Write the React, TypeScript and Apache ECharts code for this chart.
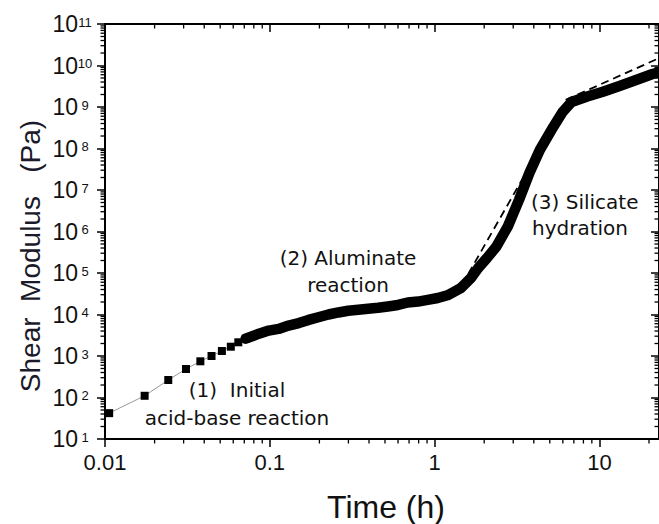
import React, { useEffect, useRef } from "react";
import * as echarts from "echarts";

// ---- axis extents ----
const X_MIN = 0.01;
const X_MAX = 23;
const Y_MIN = 10;
const Y_MAX = 1e11;

// ---- tick positions ----
const xMajorTicks = [0.01, 0.1, 1, 10];
const minorMultipliers = [2, 3, 4, 5, 6, 7, 8, 9];
const yDecades = [1, 2, 3, 4, 5, 6, 7, 8, 9, 10, 11];

// ---- data: early individual measurements (squares) ----
const earlyTime = [0.0106, 0.0174, 0.0242, 0.031, 0.0379, 0.0443, 0.0512, 0.058, 0.0644, 0.0714];
const earlyModulus = [42, 110, 264, 486, 745, 1000, 1320, 1675, 2140, 2610];

// ---- data: dense measurements (thick band) ----
const mainTime = [
  0.0714, 0.0859, 0.0986, 0.113, 0.13, 0.15, 0.172, 0.197, 0.227, 0.261, 0.299, 0.344, 0.395,
  0.454, 0.521, 0.6, 0.687, 0.793, 0.908, 1.046, 1.197, 1.31, 1.44, 1.656, 1.84, 2.08, 2.37,
  2.78, 3.25, 3.76, 4.35, 5.26, 5.98, 6.78, 8.35, 10.5, 13.25, 16.7, 21.0, 23,
];
const mainModulus = [
  2610, 3450, 4100, 4500, 5400, 6200, 7400, 8600, 10000, 11200, 12300, 13000, 13800, 14500,
  15600, 17000, 19500, 20500, 22500, 25000, 29000, 35000, 43000, 74500, 1.32e5, 2.3e5, 4.3e5,
  1.31e6, 5.74e6, 2.57e7, 9.2e7, 3.35e8, 7.6e8, 1.32e9, 1.77e9, 2.34e9, 3.21e9, 4.48e9, 6.24e9,
  6.9e9,
];

// ---- dashed fits ----
const fitSilicateTime = [1.6, 3.5];
const fitSilicateModulus = [9.5e4, 2.2e7];
const fitLateTime = [6.24, 23];
const fitLateModulus = [1.48e9, 1.5e10];

const NUM_FONT = '"Liberation Sans", Arial, sans-serif';
const ANN_FONT = '"Comic Sans MS", "DejaVu Sans", sans-serif';
const INK = "#111";

const xMinorTicks: number[] = [];
xMajorTicks.forEach((d) =>
  minorMultipliers.forEach((m) => {
    const v = +(d * m).toPrecision(3);
    if (v < X_MAX) xMinorTicks.push(v);
  })
);
const yMinorTicks: number[] = [];
yDecades.slice(0, -1).forEach((n) =>
  minorMultipliers.forEach((m) => yMinorTicks.push(m * Math.pow(10, n)))
);

const pair = (a: number[], b: number[]) => a.map((t, i) => [t, b[i]]);

export default function App() {
  const ref = useRef<HTMLDivElement>(null);
  useEffect(() => {
    if (!ref.current) return;
    const chart = echarts.init(ref.current, undefined, { renderer: "svg" });
    const tickStyle = { color: "#000", width: 1.5 };
    const option: any = {
      animation: false,
      grid: { left: 105, top: 24, width: 558, height: 415, containLabel: false },
      xAxis: [
        {
          type: "log",
          logBase: 10,
          min: X_MIN,
          max: X_MAX,
          interval: 1,
          position: "bottom",
          axisLine: { onZero: false, lineStyle: { color: "#000", width: 2 } },
          axisTick: { inside: false, length: 8, lineStyle: tickStyle },
          axisLabel: {
            margin: 12,
            fontSize: 22,
            fontFamily: NUM_FONT,
            color: INK,
            showMaxLabel: false,
            formatter: (v: number) => String(+v.toPrecision(2)),
          },
          splitLine: { show: false },
        },
        {
          type: "log",
          logBase: 10,
          min: X_MIN,
          max: X_MAX,
          interval: 1,
          position: "top",
          axisLine: { onZero: false, lineStyle: { color: "#000", width: 2 } },
          axisTick: { inside: true, length: 8, lineStyle: tickStyle },
          axisLabel: { show: false },
          splitLine: { show: false },
        },
      ],
      yAxis: [
        {
          type: "log",
          logBase: 10,
          min: Y_MIN,
          max: Y_MAX,
          interval: 1,
          position: "left",
          axisLine: { onZero: false, lineStyle: { color: "#000", width: 2 } },
          axisTick: { inside: false, length: 8, lineStyle: tickStyle },
          axisLabel: {
            margin: 13,
            color: INK,
            formatter: (v: number) => `{b|10}{s|${Math.round(Math.log10(v))}}`,
            rich: {
              b: { fontSize: 23, fontFamily: NUM_FONT, color: INK, lineHeight: 24 },
              s: {
                fontSize: 13,
                fontFamily: NUM_FONT,
                color: INK,
                width: 14,
                align: "left",
                lineHeight: 24,
                padding: [0, 0, 4, 0],
              },
            },
          },
          splitLine: { show: false },
        },
        {
          type: "log",
          logBase: 10,
          min: Y_MIN,
          max: Y_MAX,
          interval: 1,
          position: "right",
          axisLine: { onZero: false, lineStyle: { color: "#000", width: 2 } },
          axisTick: { inside: true, length: 8, lineStyle: tickStyle },
          axisLabel: { show: false },
          splitLine: { show: false },
        },
      ],
      series: [
        {
          type: "custom",
          silent: true,
          clip: false,
          data: xMinorTicks.map((v) => [v, Y_MIN]),
          renderItem: (params: any, api: any) => {
            const b = api.coord([api.value(0), Y_MIN]);
            const t = api.coord([api.value(0), Y_MAX]);
            const st = { stroke: "#000", lineWidth: 1.3 };
            return {
              type: "group",
              children: [
                { type: "line", shape: { x1: b[0], y1: b[1], x2: b[0], y2: b[1] + 4.5 }, style: st },
                { type: "line", shape: { x1: t[0], y1: t[1], x2: t[0], y2: t[1] + 4.5 }, style: st },
              ],
            };
          },
        },
        {
          type: "custom",
          silent: true,
          clip: false,
          data: yMinorTicks.map((v) => [X_MIN, v]),
          renderItem: (params: any, api: any) => {
            const l = api.coord([X_MIN, api.value(1)]);
            const r = api.coord([X_MAX, api.value(1)]);
            const st = { stroke: "#000", lineWidth: 1.3 };
            return {
              type: "group",
              children: [
                { type: "line", shape: { x1: l[0] - 4.5, y1: l[1], x2: l[0], y2: l[1] }, style: st },
                { type: "line", shape: { x1: r[0] - 4.5, y1: r[1], x2: r[0], y2: r[1] }, style: st },
              ],
            };
          },
        },
        {
          type: "line",
          data: pair(earlyTime, earlyModulus),
          symbol: "rect",
          symbolSize: 8,
          itemStyle: { color: "#000" },
          lineStyle: { color: "#999", width: 1 },
          silent: true,
          z: 4,
        },
        {
          type: "line",
          data: pair(mainTime, mainModulus),
          symbol: "none",
          lineStyle: { color: "#000", width: 10.5, cap: "round", join: "round" },
          silent: true,
          z: 3,
        },
        {
          type: "line",
          data: pair(fitSilicateTime, fitSilicateModulus),
          symbol: "none",
          lineStyle: { color: "#000", width: 1.8, type: [8, 5] },
          silent: true,
          z: 5,
        },
        {
          type: "line",
          data: pair(fitLateTime, fitLateModulus),
          symbol: "none",
          lineStyle: { color: "#000", width: 1.8, type: [8, 5] },
          silent: true,
          z: 5,
        },
      ],
      graphic: [
        {
          type: "text",
          x: 30,
          y: 256,
          rotation: Math.PI / 2,
          style: {
            text: "Shear\u00a0\u00a0Modulus\u00a0\u00a0\u00a0(Pa)",
            font: `28px ${NUM_FONT}`,
            fill: "#1a1a2a",
            textAlign: "center",
            textVerticalAlign: "middle",
            align: "center",
            verticalAlign: "middle",
          },
        },
        {
          type: "text",
          x: 386,
          y: 507,
          style: {
            text: "Time (h)",
            font: `32px ${NUM_FONT}`,
            fill: INK,
            textAlign: "center",
            textVerticalAlign: "middle",
            align: "center",
            verticalAlign: "middle",
          },
        },
        ...[
          { t: "(1)\u00a0\u00a0Initial", x: 237, y: 390, a: "center" },
          { t: "acid-base reaction", x: 237, y: 418, a: "center" },
          { t: "(2) Aluminate", x: 348, y: 258, a: "center" },
          { t: "reaction", x: 348, y: 285, a: "center" },
          { t: "(3) Silicate", x: 531, y: 202, a: "left" },
          { t: "hydration", x: 532, y: 228, a: "left" },
        ].map((d) => ({
          type: "text",
          x: d.x,
          y: d.y,
          z: 10,
          style: {
            text: d.t,
            font: `20px ${ANN_FONT}`,
            fill: INK,
            textAlign: d.a,
            textVerticalAlign: "middle",
            align: d.a,
            verticalAlign: "middle",
          },
        })),
      ],
    };
    chart.setOption(option);
    return () => chart.dispose();
  }, []);
  return (
    <div
      ref={ref}
      style={{ position: "absolute", left: 0, top: 0, width: 659, height: 524, background: "#fff" }}
    />
  );
}
